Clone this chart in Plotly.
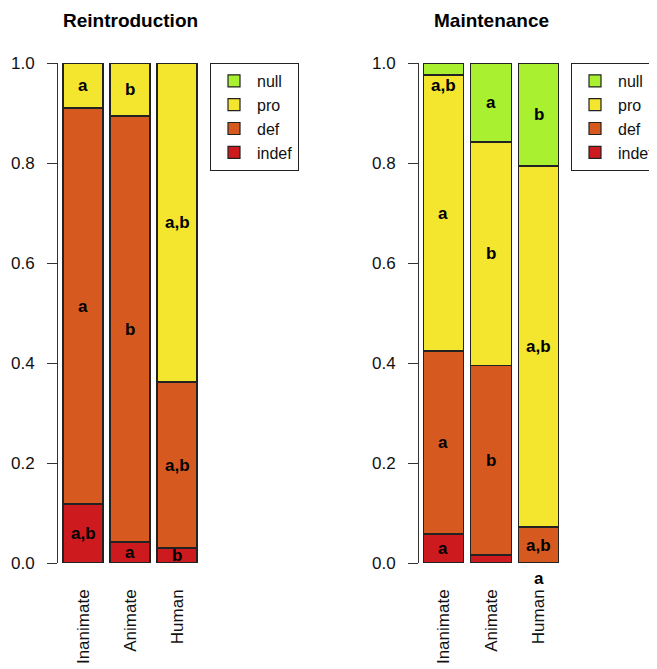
import plotly.graph_objects as go

categories = ["Inanimate", "Animate", "Human"]
series = ["indef", "def", "pro", "null"]
colors = {"indef": "#CC1A1F", "def": "#D65A1F", "pro": "#F4E62F", "null": "#A8F030"}

# Reintroduction proportions (bottom to top)
reint_indef = [0.118, 0.042, 0.030]
reint_def = [0.792, 0.852, 0.332]
reint_pro = [0.090, 0.106, 0.638]
reint_null = [0.0, 0.0, 0.0]

# Maintenance proportions (bottom to top)
maint_indef = [0.058, 0.016, 0.0]
maint_def = [0.366, 0.379, 0.072]
maint_pro = [0.552, 0.447, 0.722]
maint_null = [0.024, 0.158, 0.206]

# significance letters
reint_labels = {"indef": ["a,b", "a", "b"], "def": ["a", "b", "a,b"],
                "pro": ["a", "b", "a,b"], "null": ["", "", ""]}
maint_labels = {"indef": ["a", "", "a"], "def": ["a", "b", "a,b"],
                "pro": ["a", "b", "a,b"], "null": ["a,b", "a", "b"]}

titles = ["Reintroduction", "Maintenance"]

W, H = 657, 669
OFF = 8  # page body margin
FONT = "Liberation Sans, Arial, Helvetica, sans-serif"


def fx(px):
    return (px - OFF) / W


def fy(py):
    return (H - (py - OFF)) / H


Y0, Y1 = 563, 63  # page pixel rows of value 0 and 1
ydom = [fy(Y0), fy(Y1)]


def val_to_paper(v):
    return ydom[0] + v * (ydom[1] - ydom[0])


panels = [
    dict(vals={"indef": reint_indef, "def": reint_def, "pro": reint_pro, "null": reint_null},
         labels=reint_labels, xa="x", ya="y", legend="legend",
         xdom=(59.5, 200.5), yline=57, leg_x=210, overrides={}),
    dict(vals={"indef": maint_indef, "def": maint_def, "pro": maint_pro, "null": maint_null},
         labels=maint_labels, xa="x2", ya="y2", legend="legend2",
         xdom=(419.75, 562.25), yline=418, leg_x=571,
         overrides={("null", 0): 0.956, ("indef", 2): -0.030}),
]

fig = go.Figure()
annotations = []
xpos = list(range(len(categories)))

for p in panels:
    cum = [0.0] * len(categories)
    for s in series:
        v = p["vals"][s]
        fig.add_trace(go.Bar(
            x=xpos, y=v, name=s, xaxis=p["xa"], yaxis=p["ya"], legend=p["legend"],
            marker=dict(color=colors[s], line=dict(color="#222222", width=1.2)),
            width=0.851, hoverinfo="name+y",
        ))
        for i, lab in enumerate(p["labels"][s]):
            if lab:
                ypos = p["overrides"].get((s, i), cum[i] + v[i] / 2)
                annotations.append(dict(
                    x=i, y=val_to_paper(ypos), xref=p["xa"], yref="paper",
                    xanchor="center", yanchor="middle",
                    text="<b>%s</b>" % lab, showarrow=False,
                    font=dict(size=17, color="black", family=FONT),
                ))
        cum = [c + x for c, x in zip(cum, v)]


def xaxis_cfg(p):
    return dict(domain=[fx(p["xdom"][0]), fx(p["xdom"][1])], range=[-0.5, 2.5],
                tickvals=xpos, ticktext=categories, tickangle=-90, showline=False,
                showgrid=False, zeroline=False, ticks="", ticklabelstandoff=22,
                automargin=False,
                tickfont=dict(size=17, color="#111", family=FONT), fixedrange=True)


def yaxis_cfg(p):
    return dict(domain=ydom, range=[0, 1], anchor="free", position=fx(p["yline"]),
                tickvals=[0, 0.2, 0.4, 0.6, 0.8, 1.0],
                ticktext=["0.0", "0.2", "0.4", "0.6", "0.8", "1.0"],
                showline=True, linecolor="#333", linewidth=1, ticks="outside",
                ticklen=10, tickcolor="#333", showgrid=False, zeroline=False,
                automargin=False, ticklabelstandoff=9,
                tickfont=dict(size=17, color="#111", family=FONT), fixedrange=True)


for p, title in zip(panels, titles):
    cx = (p["xdom"][0] + p["xdom"][1]) / 2
    annotations.append(dict(x=fx(cx), y=fy(20), xref="paper", yref="paper",
                            text="<b>%s</b>" % title, showarrow=False,
                            font=dict(size=19, color="black", family=FONT),
                            xanchor="center", yanchor="middle"))

leg_common = dict(bgcolor="white", bordercolor="#222", borderwidth=1,
                  font=dict(size=16, color="#111", family=FONT), traceorder="reversed",
                  xanchor="left", yanchor="top", y=fy(63), xref="paper", yref="paper",
                  tracegroupgap=0, itemwidth=36)

fig.update_layout(
    width=W, height=H, margin=dict(l=0, r=0, t=0, b=0, autoexpand=False),
    paper_bgcolor="white", plot_bgcolor="white", barmode="stack",
    xaxis=xaxis_cfg(panels[0]), xaxis2=xaxis_cfg(panels[1]),
    yaxis=yaxis_cfg(panels[0]), yaxis2=yaxis_cfg(panels[1]),
    legend=dict(x=fx(panels[0]["leg_x"]), **leg_common),
    legend2=dict(x=fx(panels[1]["leg_x"]), **leg_common),
    annotations=annotations, font=dict(family=FONT),
)
fig.write_html("out.html")
